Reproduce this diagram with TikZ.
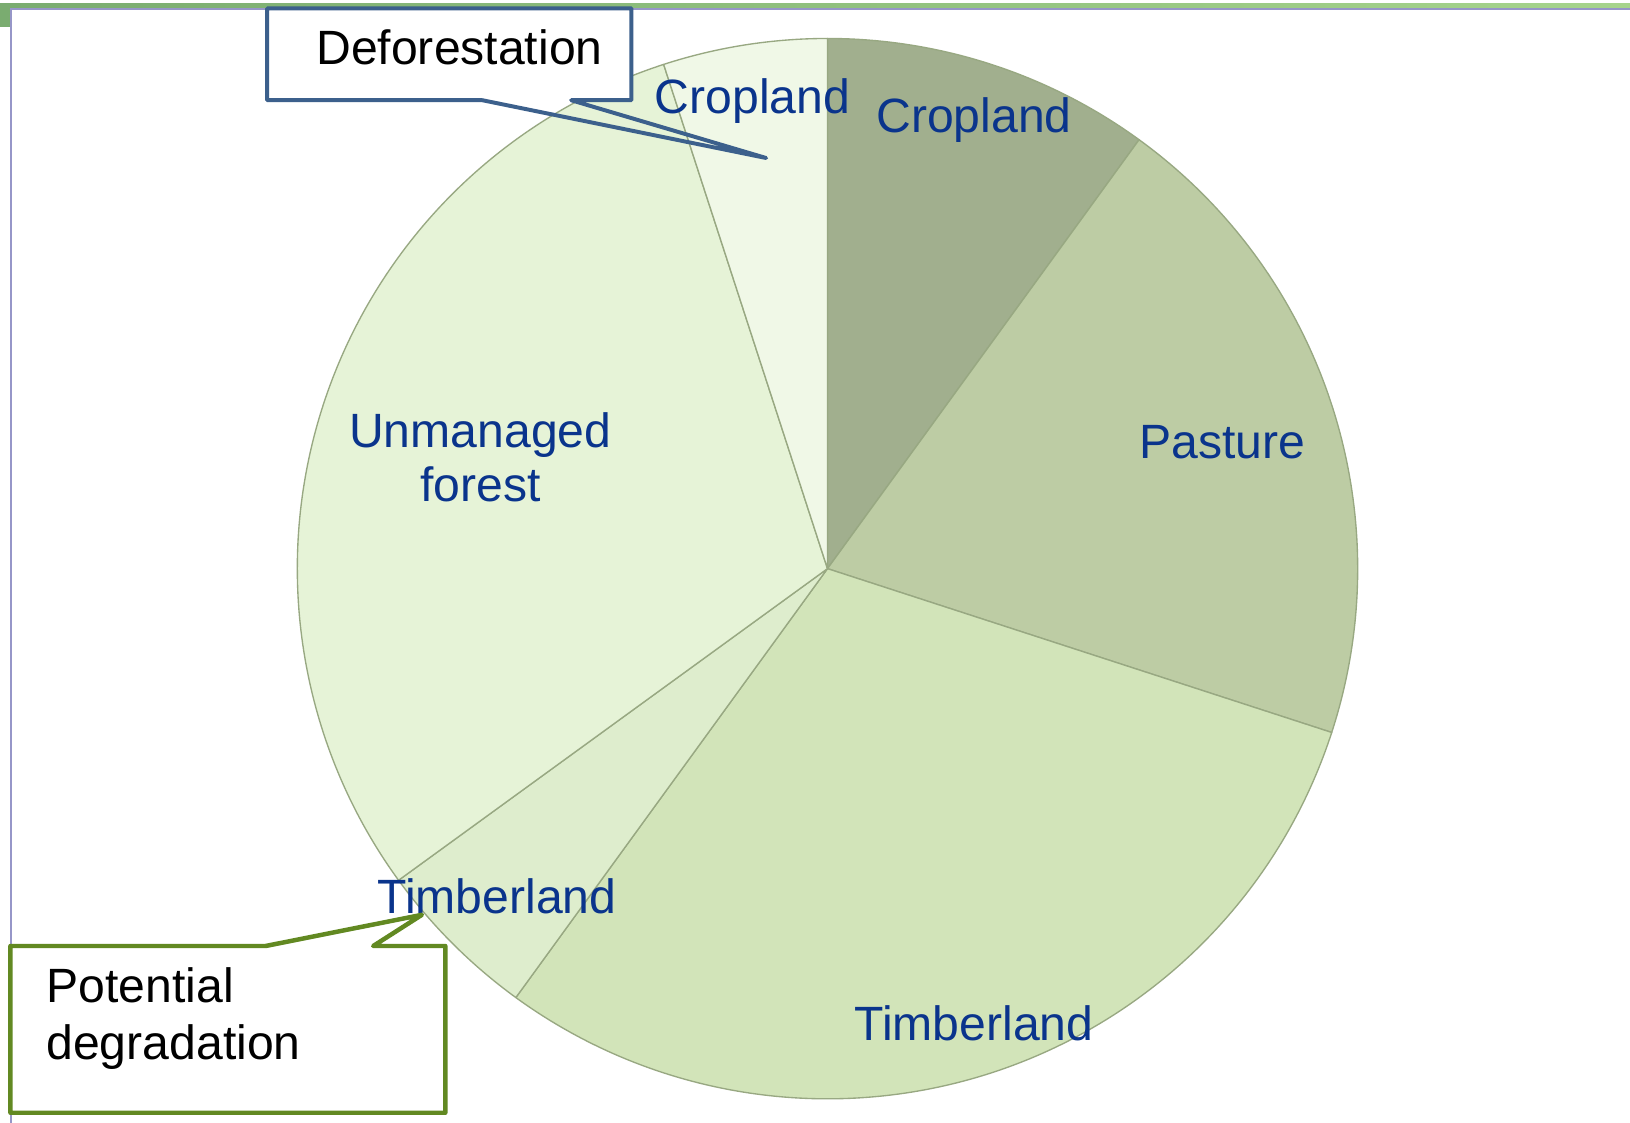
\documentclass[tikz,border=0pt]{standalone}
\usepackage{fontspec}
\setmainfont{Liberation Sans}
\usetikzlibrary{calc}
\definecolor{sliceA}{RGB}{161,175,142}
\definecolor{sliceB}{RGB}{189,204,164}
\definecolor{sliceC}{RGB}{210,228,185}
\definecolor{sliceD}{RGB}{222,237,205}
\definecolor{sliceE}{RGB}{230,243,215}
\definecolor{sliceF}{RGB}{240,248,231}
\definecolor{edgec}{RGB}{152,168,130}
\definecolor{lblblue}{RGB}{10,52,140}
\definecolor{defoblue}{RGB}{60,96,140}
\definecolor{degrgreen}{RGB}{98,137,34}
\definecolor{bandL}{RGB}{122,172,112}
\definecolor{bandR}{RGB}{166,212,140}
\definecolor{frameline}{RGB}{150,150,200}
\begin{document}
\begin{tikzpicture}[x=1pt,y=1pt,
  slice/.style={draw=edgec,line width=1.3pt,line join=round},
  lbl/.style={font=\fontsize{46.3}{52}\selectfont,text=lblblue,anchor=base,inner sep=0pt},
  note/.style={font=\fontsize{46.3}{55}\selectfont,text=black,inner sep=0pt},
  boxfill/.style={fill=white,draw=none,inner sep=0pt},
  defoline/.style={draw=defoblue,line width=3.8pt,line join=round,line cap=round},
  degrline/.style={draw=degrgreen,line width=4.3pt,line join=round,line cap=round}]
\useasboundingbox (0,0) rectangle (1568,-1080);
\fill[white] (0,0) rectangle (1568,-1080);
% frame decoration
\shade[left color=bandL,right color=bandR] (0,-3.8) rectangle (1568,-8);
\fill[frameline] (10,-8) rectangle (1568,-9.6);
\fill[bandL] (0,-3.8) rectangle (10,-26);
\draw[frameline,line width=1.5pt] (10.5,-9) -- (10.5,-1080);
% pie
\coordinate (O) at (796,-547);
\def\R{510}
\filldraw[slice,fill=sliceA] (O) -- ++(90:\R) arc[start angle=90,end angle=54,radius=\R] -- cycle;
\filldraw[slice,fill=sliceB] (O) -- ++(54:\R) arc[start angle=54,end angle=-18,radius=\R] -- cycle;
\filldraw[slice,fill=sliceC] (O) -- ++(-18:\R) arc[start angle=-18,end angle=-126,radius=\R] -- cycle;
\filldraw[slice,fill=sliceD] (O) -- ++(-126:\R) arc[start angle=-126,end angle=-144,radius=\R] -- cycle;
\filldraw[slice,fill=sliceE] (O) -- ++(-144:\R) arc[start angle=-144,end angle=-252,radius=\R] -- cycle;
\filldraw[slice,fill=sliceF] (O) -- ++(108:\R) arc[start angle=108,end angle=90,radius=\R] -- cycle;
% labels
\node[lbl] (cropS) at (724,-109) {Cropland};
\node[lbl] (cropL) at (937,-127) {Cropland};
\node[lbl] (past) at (1176,-441) {Pasture};
\node[lbl] (unman) at (462,-430) {\vtop{\baselineskip=52pt\halign{\hfil#\hfil\cr Unmanaged\cr forest\cr}}};
\node[lbl] (timbS) at (478,-878.6) {Timberland};
\node[lbl] (timbL) at (937,-1001) {Timberland};
% Deforestation callout
\node[boxfill,minimum width=350pt,minimum height=88pt,anchor=north west] (defobox) at (257,-8) {};
\coordinate (defotip) at (737,-152);
\node[note,anchor=base] (defo) at (442,-62.5) {Deforestation};
\draw[defoline] (defobox.north west) -- (defobox.north east) -- (defobox.south east)
  -- ([xshift=-58pt]defobox.south east) -- (defotip) -- ([xshift=207pt]defobox.south west)
  -- (defobox.south west) -- cycle;
% Potential degradation callout
\node[boxfill,minimum width=418pt,minimum height=160pt,anchor=north west] (degbox) at (10,-910) {};
\coordinate (degtip) at (405.9,-880);
\node[note,anchor=base west] (degr) at (44.5,-964.6) {\vtop{\baselineskip=55pt\hbox{Potential}\hbox{degradation}}};
\draw[degrline] (degbox.south west) -- (degbox.north west) -- ([xshift=245.5pt]degbox.north west)
  -- (degtip) -- ([xshift=-69.4pt]degbox.north east) -- (degbox.north east)
  -- (degbox.south east) -- cycle;
\end{tikzpicture}
\end{document}
